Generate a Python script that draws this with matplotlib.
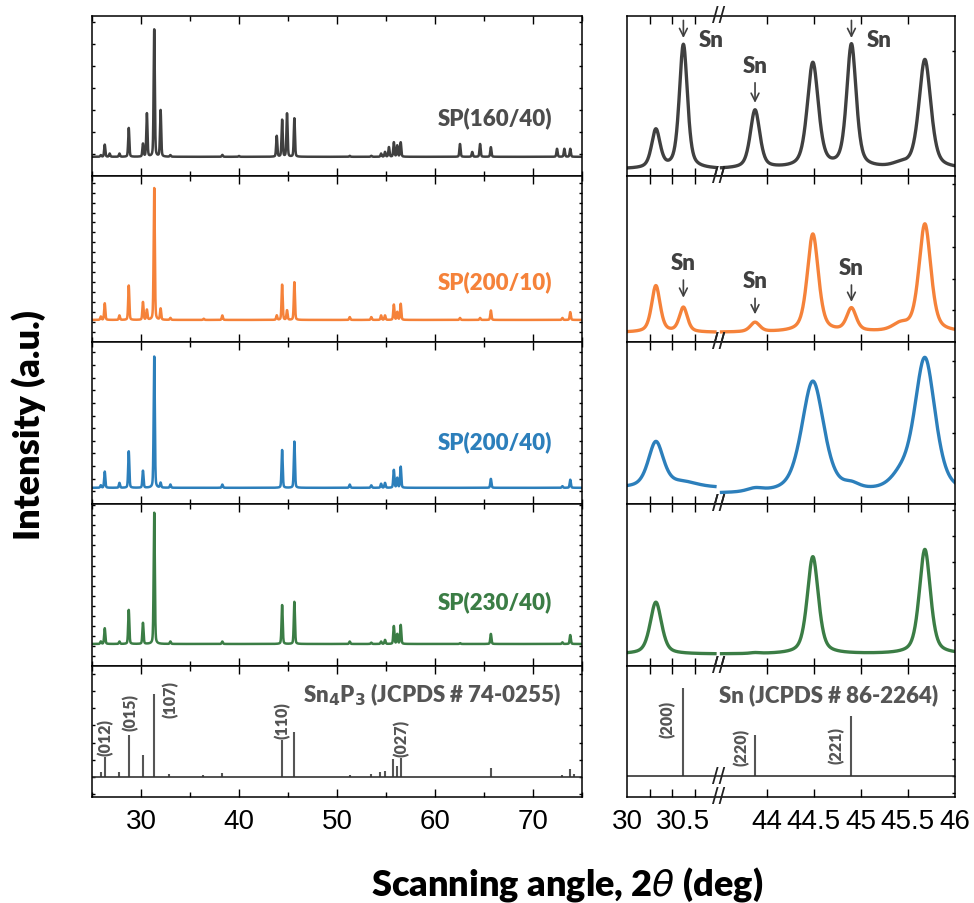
import numpy as np
import matplotlib
matplotlib.use("Agg")
import matplotlib.pyplot as plt
from matplotlib.ticker import MultipleLocator, FixedLocator

# ---- wide scan (25-75 deg), peak list shared by all samples ----
LEFT_POS = [25.9, 26.3, 26.8, 27.8, 28.75, 30.2, 30.6, 31.35, 32.0, 33.0, 36.4, 38.3, 40.0,
            43.85, 44.4, 44.9, 45.65, 51.3, 53.5, 54.5, 54.9, 55.3, 55.8, 56.15, 56.5,
            62.55, 63.8, 64.6, 65.7, 72.45, 73.0, 73.2, 73.8, 74.2]
H_160_40 = [0.01, 0.076, 0.02, 0.02, 0.18, 0.08, 0.27, 0.795, 0.29, 0.01, 0.0, 0.012, 0.005,
            0.13, 0.23, 0.27, 0.24, 0.006, 0.006, 0.02, 0.03, 0.06, 0.09, 0.07, 0.09,
            0.08, 0.03, 0.08, 0.06, 0.05, 0.0, 0.05, 0.05, 0.0]
H_200_10 = [0.02, 0.10, 0.0, 0.027, 0.207, 0.107, 0.06, 0.794, 0.067, 0.012, 0.007, 0.027, 0.0,
            0.027, 0.212, 0.057, 0.227, 0.017, 0.017, 0.027, 0.027, 0.0, 0.092, 0.047, 0.097,
            0.012, 0.0, 0.012, 0.057, 0.0, 0.012, 0.0, 0.047, 0.0]
H_200_40 = [0.015, 0.10, 0.0, 0.03, 0.225, 0.105, 0.0, 0.81, 0.03, 0.02, 0.0, 0.02, 0.0,
            0.0, 0.233, 0.0, 0.285, 0.02, 0.015, 0.025, 0.03, 0.0, 0.11, 0.06, 0.13,
            0.0, 0.0, 0.0, 0.055, 0.0, 0.01, 0.0, 0.05, 0.0]
H_230_40 = [0.015, 0.097, 0.0, 0.015, 0.21, 0.13, 0.0, 0.81, 0.0, 0.015, 0.0, 0.015, 0.0,
            0.0, 0.24, 0.0, 0.26, 0.015, 0.008, 0.015, 0.025, 0.0, 0.11, 0.06, 0.117,
            0.005, 0.0, 0.0, 0.062, 0.0, 0.01, 0.0, 0.055, 0.0]
LEFT_BASE = [0.12, 0.133, 0.10, 0.136]

# ---- zoomed scan (30-30.8 | 43.5-46 deg) ----
RIGHT_POS = [30.256, 30.5, 43.876, 44.49, 44.9, 45.42, 45.68]
RH_160_40 = [0.24, 0.776, 0.364, 0.656, 0.77, 0.02, 0.68]
RW_160_40 = [0.09, 0.085, 0.12, 0.14, 0.12, 0.2, 0.15]
RH_200_10 = [0.28, 0.148, 0.057, 0.59, 0.137, 0.04, 0.65]
RW_200_10 = [0.09, 0.085, 0.12, 0.14, 0.12, 0.2, 0.15]
RH_200_40 = [0.28, 0.03, 0.02, 0.69, 0.03, 0.07, 0.83]
RW_200_40 = [0.16, 0.3, 0.2, 0.28, 0.2, 0.25, 0.26]
RH_230_40 = [0.32, 0.0, 0.005, 0.60, 0.0, 0.0, 0.645]
RW_230_40 = [0.12, 0.1, 0.12, 0.14, 0.12, 0.2, 0.14]
RIGHT_BASE_L = [0.044, 0.058, 0.10, 0.074]
RIGHT_BASE_R = [0.044, 0.058, 0.062, 0.074]

LABELS = ["SP(160/40)", "SP(200/10)", "SP(200/40)", "SP(230/40)"]
COLORS = ["#404040", "#F5823A", "#2C7FBB", "#3B7D45"]

# ---- reference patterns ----
SN4P3_POS = [25.9, 26.3, 27.75, 28.8, 30.2, 31.3, 32.9, 36.3, 38.3, 44.4, 45.6, 51.3, 53.5,
             54.4, 54.9, 55.7, 56.1, 56.5, 65.7, 73.0, 73.8, 74.2]
SN4P3_INT = [6, 24, 6, 51, 26, 100, 4, 2, 5, 44, 54, 2, 4, 6, 7, 21, 13, 23, 11, 2, 10, 4]
SN4P3_HKL = [("(012)", 26.4, 49), ("(015)", 28.9, 79), ("(107)", 33.0, 95),
             ("(110)", 44.4, 69), ("(027)", 56.6, 48)]
SN_POS = [30.5, 43.88, 44.9]
SN_INT = [100, 47, 68]
SN_HKL = [("(200)", 30.36, 65), ("(220)", 43.73, 34), ("(221)", 44.74, 36)]

# broken x-axis on the right: piecewise linear mapping
BX = np.array([30.0, 30.8, 43.5, 46.0])
BU = np.array([0.0, 89.6, 92.0, 325.75])


def fwd(x):
    x = np.asarray(x, float)
    u = np.interp(x, BX, BU)
    u = np.where(x < BX[0], (x - BX[0]) * 112.0, u)
    u = np.where(x > BX[-1], BU[-1] + (x - BX[-1]) * 93.5, u)
    return u


def inv(u):
    u = np.asarray(u, float)
    x = np.interp(u, BU, BX)
    x = np.where(u < BU[0], BX[0] + u / 112.0, x)
    x = np.where(u > BU[-1], BX[-1] + (u - BU[-1]) / 93.5, x)
    return x


def pv(x, pos, h, w, eta=0.5):
    d = (x - pos) / w
    return h * (eta / (1 + 4 * d ** 2) + (1 - eta) * np.exp(-4 * np.log(2) * d ** 2))


W, H = 974, 904
fig = plt.figure(figsize=(W / 100, H / 100), dpi=100)
plt.rcParams["font.family"] = ["Lato", "DejaVu Sans"]
TICKFONT = "Liberation Sans"
TXT = dict(fontweight="heavy")


def px_axes(x0, y0, x1, y1):
    return fig.add_axes([x0 / W, 1 - y1 / H, (x1 - x0) / W, (y1 - y0) / H])


rows = [(17, 177), (177, 343), (343, 505), (505, 667), (667, 798)]
left_axes = [px_axes(92, a, 582, b) for a, b in rows]
right_axes = [px_axes(627, a, 955, b) for a, b in rows]

left_heights = [H_160_40, H_200_10, H_200_40, H_230_40]
right_heights = [RH_160_40, RH_200_10, RH_200_40, RH_230_40]
right_widths = [RW_160_40, RW_200_10, RW_200_40, RW_230_40]
left_ystep = [0.1375, 0.06, 0.078, 0.062, 20.7]
right_ystep = [0.39, 0.19, 0.22, 0.16, 19.5]

xl = np.arange(25.0, 75.0001, 0.01)
xa = np.arange(30.0, 30.78, 0.004)
xb = np.arange(43.52, 46.0001, 0.004)

for i in range(4):
    ax = left_axes[i]
    y = np.full_like(xl, LEFT_BASE[i])
    for p, h in zip(LEFT_POS, left_heights[i]):
        y += pv(xl, p, h, 0.14, 0.3)
    ax.plot(xl, y, color=COLORS[i], lw=1.8)
    ax.set_ylim(0, 1)
    ax.text(0.822, [0.37, 0.367, 0.39, 0.40][i], LABELS[i], transform=ax.transAxes,
            ha="center", va="center", fontsize=16, **TXT,
            color="#4D4D4D" if i == 0 else COLORS[i])

    ax = right_axes[i]
    ax.set_xscale("function", functions=(fwd, inv))
    ya = np.full_like(xa, RIGHT_BASE_L[i])
    yb = np.full_like(xb, RIGHT_BASE_R[i])
    for p, h, w in zip(RIGHT_POS, right_heights[i], right_widths[i]):
        ya += pv(xa, p, h, w)
        yb += pv(xb, p, h, w)
    ax.plot(xa, ya, color=COLORS[i], lw=2.4)
    ax.plot(xb, yb, color=COLORS[i], lw=2.4)
    ax.set_ylim(0, 1)

# reference sticks
ax = left_axes[4]
ax.vlines(SN4P3_POS, 0, SN4P3_INT, color="#555555", lw=1.5)
ax.axhline(0, color="#333333", lw=1.2)
ax.set_ylim(-24.4, 134)
for lab, x, y in SN4P3_HKL:
    ax.text(x, y, lab, rotation=90, ha="center", va="center", fontsize=11.5,
            **TXT, color="#555555")
ax.text(59.7, 100, "Sn$_\\mathbf{4}$P$_\\mathbf{3}$ (JCPDS # 74-0255)", ha="center", va="center",
        fontsize=16, **TXT, color="#555555")

ax = right_axes[4]
ax.set_xscale("function", functions=(fwd, inv))
ax.vlines(SN_POS, 0, SN_INT, color="#555555", lw=1.5)
ax.axhline(0, color="#333333", lw=1.2)
ax.set_ylim(-24.4, 125.5)
for lab, x, y in SN_HKL:
    ax.text(x, y, lab, rotation=90, ha="center", va="center", fontsize=11.5,
            **TXT, color="#555555")
ax.text(44.66, 93.5, "Sn (JCPDS # 86-2264)", ha="center", va="center",
        fontsize=16, **TXT, color="#555555")


# Sn markers on the zoomed panels
def sn_mark(ax, x, y_text, y0, y1, dx=0.0):
    ax.annotate("", xy=(x, y1), xytext=(x, y0),
                arrowprops=dict(arrowstyle="->", color="#404040", lw=1.2, mutation_scale=14))
    ax.text(x + dx, y_text, "Sn", ha="center", va="center", fontsize=16,
            **TXT, color="#404040")


sn_mark(right_axes[0], 30.5, 0.856, 0.99, 0.845, dx=0.25)
sn_mark(right_axes[0], 43.876, 0.69, 0.6, 0.44)
sn_mark(right_axes[0], 44.9, 0.856, 0.99, 0.845, dx=0.3)
sn_mark(right_axes[1], 30.5, 0.48, 0.39, 0.25)
sn_mark(right_axes[1], 43.876, 0.37, 0.28, 0.15)
sn_mark(right_axes[1], 44.9, 0.446, 0.36, 0.225)

# axes styling
for i, ax in enumerate(left_axes):
    ax.set_xlim(25, 75)
    ax.xaxis.set_major_locator(MultipleLocator(10))
    ax.xaxis.set_minor_locator(MultipleLocator(5))
    ax.yaxis.set_major_locator(MultipleLocator(left_ystep[i]))
    ax.tick_params(axis="x", which="major", direction="in", length=6, width=1, top=True, bottom=True)
    ax.tick_params(axis="x", which="minor", direction="in", length=3.5, width=1, top=True, bottom=True)
    ax.tick_params(axis="y", which="both", direction="in", length=2.5, width=1, left=True, right=True,
                   labelleft=False)
    ax.yaxis.set_minor_locator(plt.NullLocator())
    if i < 4:
        ax.tick_params(labelbottom=False)
    for s in ax.spines.values():
        s.set_linewidth(1.1)

for i, ax in enumerate(right_axes):
    ax.set_xlim(30, 46)
    ax.xaxis.set_major_locator(FixedLocator([30.2, 30.4, 30.6, 44, 44.5, 45, 45.5]))
    ax.xaxis.set_minor_locator(FixedLocator([30, 30.5, 46]))
    ax.yaxis.set_major_locator(MultipleLocator(right_ystep[i]))
    ax.yaxis.set_minor_locator(plt.NullLocator())
    ax.tick_params(axis="x", which="major", direction="in", length=6, width=1, top=True, bottom=True)
    ax.tick_params(axis="x", which="minor", length=0)
    ax.tick_params(axis="y", which="both", direction="in", length=2.5, width=1, left=False, right=True,
                   labelleft=False)
    for s in ax.spines.values():
        s.set_linewidth(1.1)
    ax.xaxis.set_major_formatter(plt.FixedFormatter(["", "", "", "44", "44.5", "45", "45.5"]))
    ax.xaxis.set_minor_formatter(plt.FixedFormatter(["30", "30.5", "46"]))
    if i < 4:
        ax.tick_params(which="both", labelbottom=False)
    # break marks
    marks = [0.0, 1.0] + ([0.154] if i == 4 else [])
    for yb_ in marks:
        ax.text(37.15, yb_, "//", transform=ax.get_xaxis_transform(), ha="center", va="center",
                fontsize=17, color="#222222", family=TICKFONT, clip_on=False)

for ax in (left_axes[4], right_axes[4]):
    for lab in ax.get_xticklabels(which="both"):
        lab.set_fontfamily(TICKFONT)
        lab.set_fontsize(20)
    ax.tick_params(axis="x", which="both", pad=8)

fig.text(29 / W, 1 - 425 / H, "Intensity (a.u.)", rotation=90, ha="center", va="center",
         fontsize=26, **TXT)
fig.text(567 / W, 1 - 885 / H, "Scanning angle, 2$\\theta$ (deg)", ha="center", va="center",
         fontsize=26, **TXT)

fig.savefig("out.png", dpi=100)
